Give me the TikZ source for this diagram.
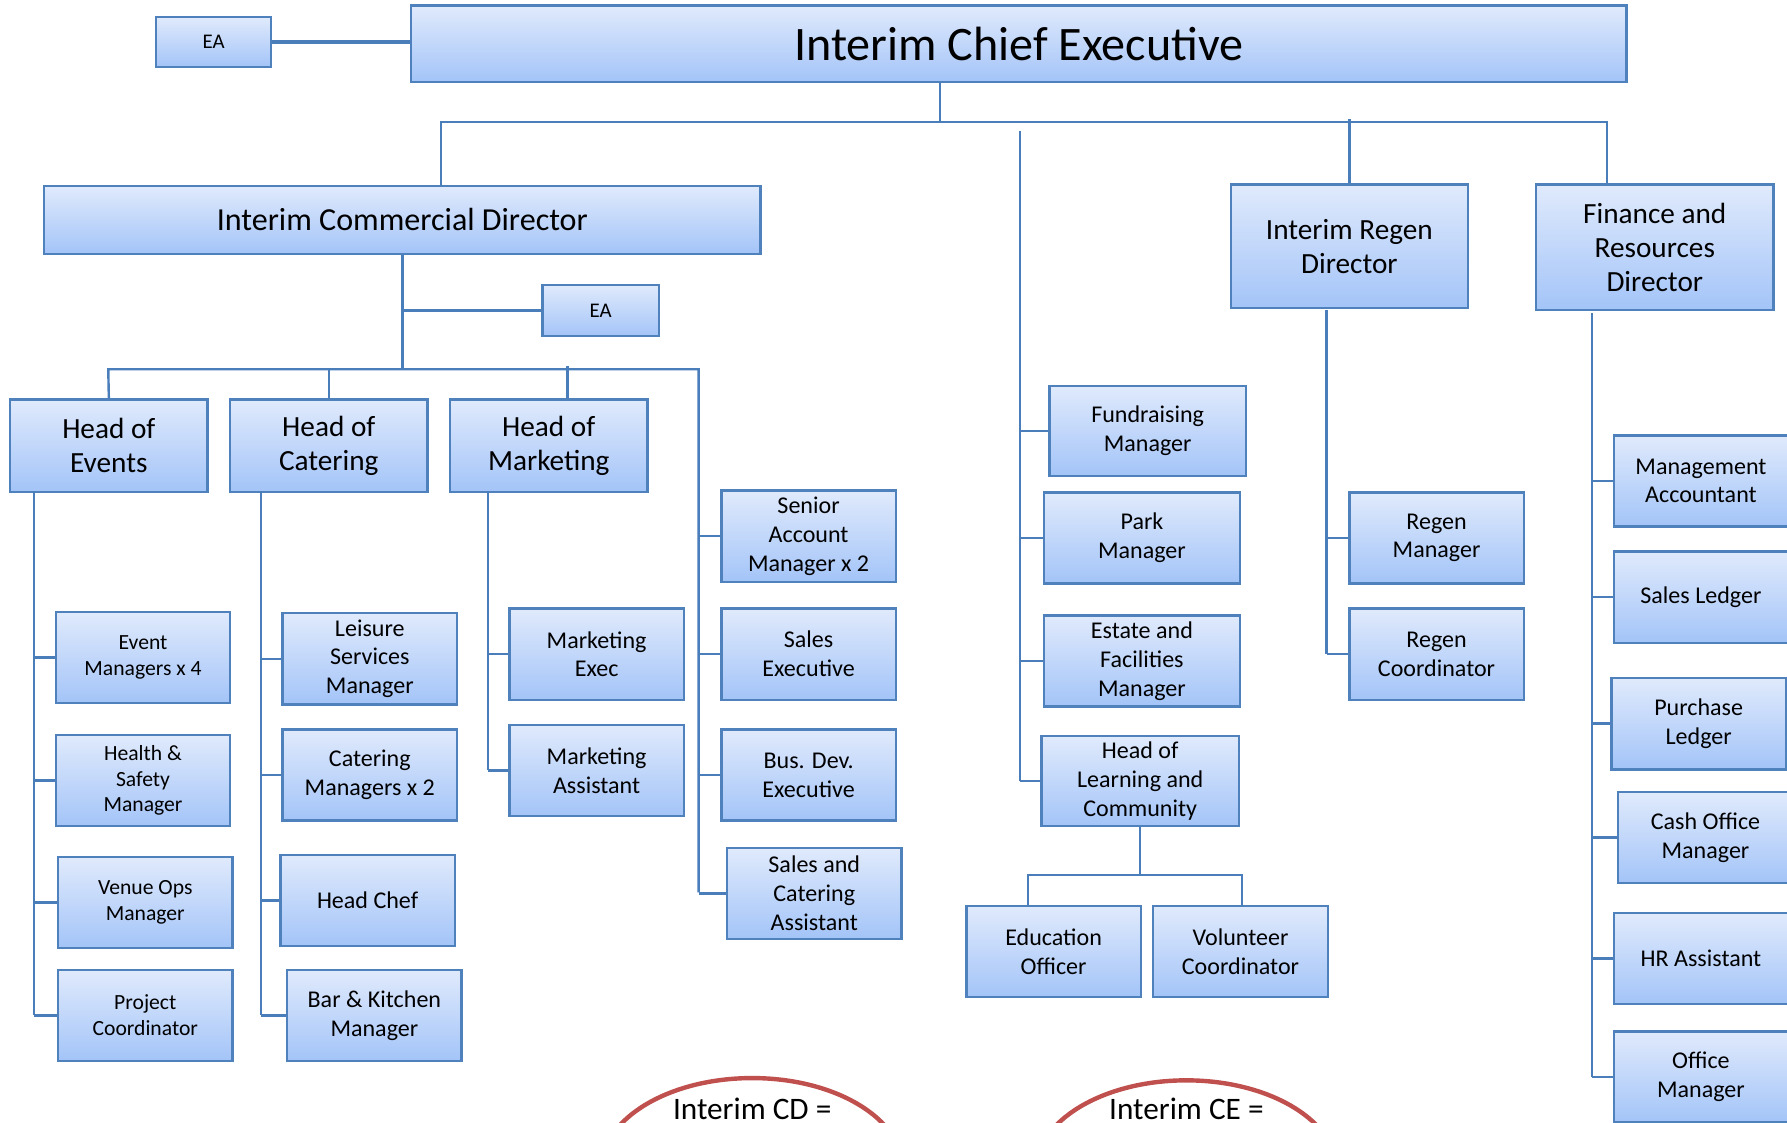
\documentclass[tikz,border=0pt]{standalone}
\usepackage{fontspec}
\setmainfont{Carlito}
\usetikzlibrary{positioning, calc, shapes.geometric}

\definecolor{boxline}{RGB}{79,129,189}
\definecolor{boxtop}{RGB}{224,234,252}
\definecolor{boxbot}{RGB}{163,196,248}
\definecolor{wireblue}{RGB}{74,126,187}
\definecolor{ringred}{RGB}{192,80,77}

\begin{document}
\begin{tikzpicture}[
          x=0.01cm, y=-0.01cm,
          box/.style={
              rectangle, draw=boxline, line width=0.6pt,
              top color=boxtop, bottom color=boxbot, align=center,
              inner sep=1pt, minimum width=1.53cm, minimum height=0.8cm,
              font=\fontsize{6}{7.2}\selectfont
          },
          evbox/.style={box, font=\fontsize{5.4}{6.4}\selectfont},
          headbox/.style={box, minimum width=1.73cm, minimum height=0.81cm,
              font=\fontsize{7.3}{8.6}\selectfont},
          dirbox/.style={box, minimum width=2.08cm, minimum height=1.08cm,
              font=\fontsize{7.3}{8.5}\selectfont},
          parkbox/.style={box, minimum width=1.72cm},
          eabox/.style={box, minimum width=1.01cm, minimum height=0.44cm,
              font=\fontsize{5.2}{6}\selectfont},
          wire/.style={draw=wireblue, line width=0.6pt},
          ring/.style={ellipse, draw=ringred, line width=1.1pt,
              minimum width=2.65cm, minimum height=1.6cm, inner sep=0pt},
          ringtext/.style={anchor=base, font=\fontsize{7.8}{9}\selectfont},
      ]
          \useasboundingbox (0,0) rectangle (1568,985);

          % Top level
          \node [box, minimum width=10.66cm, minimum height=0.67cm,
              font=\fontsize{12}{14}\selectfont] (ceo) at (894,38.5) {Interim Chief Executive};
          \node [eabox] (eaTop) at (187.5,37) {EA};
          \node [box, minimum width=6.28cm, minimum height=0.6cm,
              font=\fontsize{8}{9.5}\selectfont] (commercial) at (353,193) {Interim Commercial Director};
          \node [eabox, minimum width=1.02cm, minimum height=0.45cm] (eaCom) at (527,272.5) {EA};
          \node [dirbox] (regen) at (1184,216) {Interim Regen\\Director};
          \node [dirbox, minimum height=1.1cm] (finance) at (1452,217) {Finance and\\Resources\\Director};

          % Commercial heads
          \node [headbox] (hoEvents) at (95.5,391) {Head of\\Events};
          \node [headbox] (hoCatering) at (288.5,391) {Head of\\Catering};
          \node [headbox] (hoMarketing) at (481.5,391) {Head of\\Marketing};

          % Events team
          \node [evbox] (eventMgr) at (125.5,577) {Event\\Managers x 4};
          \node [evbox] (healthSafety) at (125.5,685) {Health \&\\Safety\\Manager};
          \node [evbox] (venueOps) at (127.5,792) {Venue Ops\\Manager};
          \node [evbox] (projectCo) at (127.5,891) {Project\\Coordinator};

          % Catering team
          \node [box] (leisure) at (324.5,578) {Leisure\\Services\\Manager};
          \node [box] (cateringMgr) at (324.5,680) {Catering\\Managers x 2};
          \node [box] (headChef) at (322.5,790) {Head Chef};
          \node [box] (barKitchen) at (328.5,891) {Bar \& Kitchen\\Manager};

          % Marketing team
          \node [box] (mktExec) at (523.5,574) {Marketing\\Exec};
          \node [box] (mktAssist) at (523.5,676) {Marketing\\Assistant};

          % Sales team
          \node [box] (seniorAcc) at (709.5,470.5) {Senior\\Account\\Manager x 2};
          \node [box] (salesExec) at (709.5,574) {Sales\\Executive};
          \node [box] (busDev) at (709.5,680) {Bus. Dev.\\Executive};
          \node [box] (salesCatering) at (714.5,784) {Sales and\\Catering\\Assistant};

          % Park team
          \node [parkbox, minimum height=0.79cm] (fundraising) at (1007,378) {Fundraising\\Manager};
          \node [parkbox] (park) at (1002,472) {Park\\Manager};
          \node [parkbox] (estate) at (1002,580) {Estate and\\Facilities\\Manager};
          \node [parkbox, minimum width=1.73cm, minimum height=0.79cm] (learning) at (1000.5,685.5) {Head of\\Learning and\\Community};
          \node [box] (eduOfficer) at (924.5,835) {Education\\Officer};
          \node [box] (volunteer) at (1088.5,835) {Volunteer\\Coordinator};

          % Regen team
          \node [box] (regenMgr) at (1260.5,472) {Regen\\Manager};
          \node [box] (regenCo) at (1260.5,574) {Regen\\Coordinator};

          % Finance team
          \node [box] (mgmtAcc) at (1492.5,422) {Management\\Accountant};
          \node [box] (salesLedger) at (1492.5,524) {Sales Ledger};
          \node [box] (purchase) at (1490.5,635) {Purchase\\Ledger};
          \node [box] (cashOffice) at (1496.5,735) {Cash Office\\Manager};
          \node [box] (hrAssist) at (1492.5,841) {HR Assistant};
          \node [box] (officeMgr) at (1492.5,945) {Office\\Manager};

          % Spine coordinates
          \coordinate (topBar) at (825,107);
          \coordinate (topBarL) at (387,107);
          \coordinate (topBarR) at (1410,107);
          \coordinate (midBarL) at (95,324);
          \coordinate (midBarR) at (613,324);
          \coordinate (mkDrop) at (498,321);
          \coordinate (evSpine) at (30,431);
          \coordinate (caSpine) at (229,431);
          \coordinate (mkSpine) at (428,431);
          \coordinate (saBot) at (613,783);
          \coordinate (pkSpine) at (895,115);
          \coordinate (rgSpine) at (1164,272);
          \coordinate (fiSpine) at (1397,275);
          \coordinate (lcBarL) at (902,768);
          \coordinate (lcBarR) at (1090,768);

          % Lines
          \draw [wire, line width=1pt] (eaTop.east) -- (eaTop.east -| ceo.west);
          \draw [wire] (ceo.south -| topBar) -- (topBar);
          \draw [wire] (topBarL |- commercial.north) -- (topBarL) -- (topBarR) -- (topBarR |- finance.north);
          \draw [wire] (regen.north) -- ($(regen.north |- topBar)+(0,-3)$);
          \draw [wire] (pkSpine) -- (pkSpine |- learning.west);

          \draw [wire] (commercial.south) -- (commercial.south |- midBarL);
          \draw [wire] (commercial.south |- eaCom.west) -- (eaCom.west);
          \draw [wire] (hoEvents.north) -- (midBarL) -- (midBarR) -- (saBot);
          \draw [wire] (hoCatering.north) -- (hoCatering.north |- midBarL);
          \draw [wire] (mkDrop) -- (mkDrop |- hoMarketing.north);

          \draw [wire] (evSpine) -- (evSpine |- projectCo.west);
          \foreach \n in {eventMgr, healthSafety, venueOps, projectCo}
              \draw [wire] (evSpine |- \n.west) -- (\n.west);
          \draw [wire] (caSpine) -- (caSpine |- barKitchen.west);
          \foreach \n in {leisure, cateringMgr, headChef, barKitchen}
              \draw [wire] (caSpine |- \n.west) -- (\n.west);
          \draw [wire] (mkSpine) -- (mkSpine |- mktAssist.west);
          \foreach \n in {mktExec, mktAssist}
              \draw [wire] (mkSpine |- \n.west) -- (\n.west);
          \foreach \n in {seniorAcc, salesExec, busDev, salesCatering}
              \draw [wire] (saBot |- \n.west) -- (\n.west);

          \foreach \n in {fundraising, park, estate, learning}
              \draw [wire] (pkSpine |- \n.west) -- (\n.west);
          \draw [wire] (learning.south) -- (learning.south |- lcBarL);
          \draw [wire] (lcBarL |- eduOfficer.north) -- (lcBarL) -- (lcBarR) -- (lcBarR |- volunteer.north);

          \draw [wire] (rgSpine) -- (rgSpine |- regenCo.west);
          \foreach \n in {regenMgr, regenCo}
              \draw [wire] (rgSpine |- \n.west) -- (\n.west);
          \draw [wire] (fiSpine) -- (fiSpine |- officeMgr.west);
          \foreach \n in {mgmtAcc, salesLedger, purchase, cashOffice, hrAssist, officeMgr}
              \draw [wire] (fiSpine |- \n.west) -- (\n.west);

          % Notes
          \node [ring] (cdRing) at (660,1026) {};
          \node [ringtext] (cdText) at (660,982) {Interim CD =};
          \node [ring] (ceRing) at (1041,1028) {};
          \node [ringtext] (ceText) at (1041,982) {Interim CE =};
        \end{tikzpicture}
\end{document}
